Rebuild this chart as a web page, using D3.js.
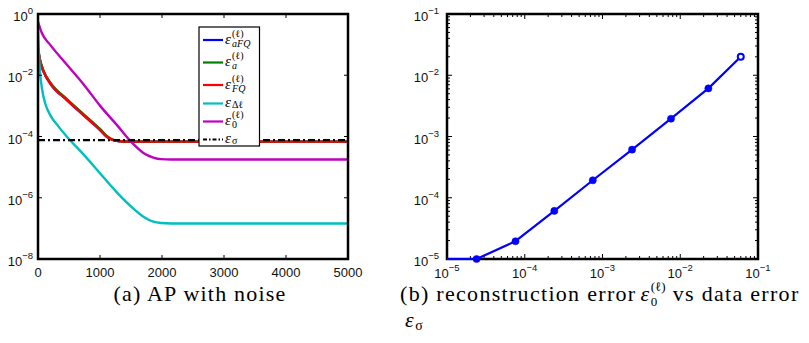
<!DOCTYPE html>
<html>
<head>
<meta charset="utf-8">
<script src="https://cdn.jsdelivr.net/npm/d3@7/dist/d3.min.js"></script>
<style>
  html, body { margin: 0; padding: 0; background: #fff; }
  svg { display: block; }
</style>
</head>
<body>
<svg id="chart" width="809" height="343"></svg>
<script>
// ---- Panel (a): error histories of the AP iteration with noisy data ----
const iterTicks = [0, 1000, 2000, 3000, 4000, 5000];
const errDecadesA = [0, -2, -4, -6, -8];

const iterFQ   = [0, 37, 91, 198, 467, 734, 1003, 1110, 1217, 1378, 1600, 2500, 3500, 5000];
const errFQ    = [7.1e-2, 2.75e-2, 1.29e-2, 5.37e-3, 1.55e-3, 5.0e-4, 1.62e-4, 9.8e-5, 7.6e-5, 6.9e-5, 6.8e-5, 6.8e-5, 6.8e-5, 6.8e-5];
const errA     = [7.6e-2, 2.95e-2, 1.39e-2, 5.8e-3, 1.67e-3, 5.4e-4, 1.74e-4, 1.04e-4, 7.8e-5, 6.9e-5, 6.8e-5, 6.8e-5, 6.8e-5, 6.8e-5];
const errAFQ   = [7.1e-2, 2.75e-2, 1.29e-2, 5.37e-3, 1.55e-3, 5.0e-4, 1.62e-4, 9.8e-5, 7.6e-5, 6.9e-5, 6.8e-5, 6.8e-5, 6.8e-5, 6.8e-5];

const iterDelta = [0, 26, 64, 117, 198, 332, 467, 734, 1003, 1271, 1539, 1700, 1861, 1980, 2150, 3000, 5000];
const errDelta  = [0.28, 1.9e-2, 3.7e-3, 1.2e-3, 5.0e-4, 2.1e-4, 9.8e-5, 2.6e-5, 6.2e-6, 1.5e-6, 4.4e-7, 2.4e-7, 1.65e-7, 1.5e-7, 1.45e-7, 1.45e-7, 1.45e-7];

const iterZero = [0, 64, 198, 467, 734, 1003, 1271, 1539, 1700, 1861, 1980, 2150, 3000, 4000, 5000];
const errZero  = [0.56, 0.234, 9.8e-2, 2.2e-2, 5.1e-3, 1.0e-3, 2.4e-4, 5.6e-5, 2.9e-5, 2.05e-5, 1.82e-5, 1.78e-5, 1.78e-5, 1.78e-5, 1.78e-5];

const iterSigma = [0, 5000];
const errSigma  = [7.6e-5, 7.6e-5];

// ---- Panel (b): reconstruction error against data error ----
const dataErr  = [7.6e-6, 2.4e-5, 7.6e-5, 2.4e-4, 7.5e-4, 2.4e-3, 7.6e-3, 2.3e-2, 6.0e-2];
const reconErr = [1.0e-5, 1.0e-5, 1.95e-5, 6.1e-5, 1.93e-4, 6.1e-4, 1.95e-3, 6.1e-3, 2.0e-2];
const decadesB = [-5, -4, -3, -2, -1];

const SANS = "'Liberation Sans', Arial, Helvetica, sans-serif";
const SERIF = "'Liberation Serif', 'DejaVu Serif', 'Times New Roman', serif";

const svg = d3.select("#chart");

function zip(xs, ys) { return xs.map((x, i) => [x, ys[i]]); }

// "10" with a raised exponent
function powerLabel(g, x, y, exp, anchor) {
  const t = g.append("text").attr("font-family", SANS).attr("fill", "#111").attr("y", y);
  t.append("tspan").attr("font-size", 13).text("10");
  t.append("tspan").attr("font-size", 9.5).attr("dy", -7).text(exp);
  const w = t.node().getComputedTextLength();
  t.attr("x", anchor === "end" ? x - w : x - w / 2);
  return t;
}

// epsilon with stacked super- and subscript; returns its width
function epsLabel(g, x, yMid, sup, sub, size, ssize, supOff, subOff) {
  const t = g.append("text").attr("font-family", SERIF).attr("fill", "#000");
  t.append("tspan").attr("x", x).attr("y", yMid + size * 0.25)
    .attr("font-size", size).attr("font-style", "italic").text("ε");
  const sx = x + size * 0.47;
  let w = 0;
  if (sup) {
    const s = t.append("tspan").attr("x", sx).attr("y", yMid - supOff).attr("font-size", ssize).text(sup);
    w = Math.max(w, s.node().getComputedTextLength());
  }
  if (sub) {
    const s = t.append("tspan").attr("x", sx).attr("y", yMid + subOff).attr("font-size", ssize)
      .attr("font-style", /^[a-zA-Z]+$/.test(sub) ? "italic" : "normal").text(sub);
    w = Math.max(w, s.node().getComputedTextLength());
  }
  return sx - x + w;
}

// ---------- panel (a) ----------
const A = { left: 38, right: 348, top: 14, bottom: 259 };
const xA = d3.scaleLinear().domain([0, 5000]).range([A.left, A.right]);
const yA = d3.scaleLog().domain([1e-8, 1]).range([A.bottom, A.top]);
const gA = svg.append("g");

gA.append("clipPath").attr("id", "clipA").append("rect")
  .attr("x", A.left).attr("y", A.top).attr("width", A.right - A.left).attr("height", A.bottom - A.top);

const lineA = d3.line().x(d => xA(d[0])).y(d => yA(d[1])).curve(d3.curveMonotoneX);
const seriesA = [
  { x: iterFQ, y: errAFQ, color: "#0000ff" },
  { x: iterFQ, y: errA, color: "#007f00" },
  { x: iterFQ, y: errFQ, color: "#ff0000" },
  { x: iterDelta, y: errDelta, color: "#00bfbf" },
  { x: iterZero, y: errZero, color: "#bf00bf" }
];
const plotA = gA.append("g").attr("clip-path", "url(#clipA)");
seriesA.forEach(s => {
  plotA.append("path").datum(zip(s.x, s.y)).attr("d", lineA)
    .attr("fill", "none").attr("stroke", s.color).attr("stroke-width", 2.4)
    .attr("stroke-linejoin", "round");
});
plotA.append("path").datum(zip(iterSigma, errSigma)).attr("d", d3.line().x(d => xA(d[0])).y(d => yA(d[1])))
  .attr("fill", "none").attr("stroke", "#000").attr("stroke-width", 2.2)
  .attr("stroke-dasharray", "7,3,2,3");

iterTicks.forEach(v => {
  gA.append("line").attr("x1", xA(v)).attr("x2", xA(v)).attr("y1", A.bottom).attr("y2", A.bottom - 4).attr("stroke", "#000");
  gA.append("line").attr("x1", xA(v)).attr("x2", xA(v)).attr("y1", A.top).attr("y2", A.top + 4).attr("stroke", "#000");
  gA.append("text").attr("font-family", SANS).attr("fill", "#111").attr("font-size", 13)
    .attr("x", xA(v)).attr("y", 277).attr("text-anchor", "middle").text(v);
});
errDecadesA.forEach(e => {
  const y = yA(Math.pow(10, e));
  gA.append("line").attr("x1", A.left).attr("x2", A.left + 4).attr("y1", y).attr("y2", y).attr("stroke", "#000");
  gA.append("line").attr("x1", A.right).attr("x2", A.right - 4).attr("y1", y).attr("y2", y).attr("stroke", "#000");
  powerLabel(gA, A.left - 5, y + 7, e === 0 ? "0" : "−" + Math.abs(e), "end");
});
gA.append("rect").attr("x", A.left).attr("y", A.top).attr("width", A.right - A.left).attr("height", A.bottom - A.top)
  .attr("fill", "none").attr("stroke", "#000").attr("stroke-width", 2.5);

// legend
const legendItems = [
  { sup: "(ℓ)", sub: "aFQ", color: "#0000ff" },
  { sup: "(ℓ)", sub: "a", color: "#007f00" },
  { sup: "(ℓ)", sub: "FQ", color: "#ff0000" },
  { sup: null, sub: "Δℓ", color: "#00bfbf" },
  { sup: "(ℓ)", sub: "0", color: "#bf00bf" },
  { sup: null, sub: "σ", color: "#000", dash: "4,2,1.5,2" }
];
const legendY = [40, 62.5, 85, 103.5, 121.5, 139.5];
const lg = gA.append("g");
lg.append("rect").attr("x", 199).attr("y", 27).attr("width", 60.5).attr("height", 119)
  .attr("fill", "#fff").attr("stroke", "#000").attr("stroke-width", 1.2);
legendItems.forEach((it, i) => {
  const y = legendY[i];
  lg.append("line").attr("x1", 203).attr("x2", 223).attr("y1", y).attr("y2", y)
    .attr("stroke", it.color).attr("stroke-width", 2.2)
    .attr("stroke-dasharray", it.dash || null);
  epsLabel(lg, 225, y, it.sup, it.sub, 15, 10, 3.5, it.sup ? 6.5 : 4.5);
});

// ---------- panel (b) ----------
const B = { left: 447, right: 758, top: 14, bottom: 259 };
const xB = d3.scaleLog().domain([1e-5, 1e-1]).range([B.left, B.right]);
const yB = d3.scaleLog().domain([1e-5, 1e-1]).range([B.bottom, B.top]);
const gB = svg.append("g");

gB.append("clipPath").attr("id", "clipB").append("rect")
  .attr("x", B.left).attr("y", B.top - 5).attr("width", B.right - B.left).attr("height", B.bottom - B.top + 10);

for (let e = -5; e < -1; e++) {
  for (let m = 2; m <= 9; m++) {
    const v = m * Math.pow(10, e);
    const x = xB(v), y = yB(v);
    gB.append("line").attr("x1", x).attr("x2", x).attr("y1", B.bottom).attr("y2", B.bottom - 3).attr("stroke", "#000");
    gB.append("line").attr("x1", x).attr("x2", x).attr("y1", B.top).attr("y2", B.top + 3).attr("stroke", "#000");
    gB.append("line").attr("x1", B.left).attr("x2", B.left + 3).attr("y1", y).attr("y2", y).attr("stroke", "#000");
    gB.append("line").attr("x1", B.right).attr("x2", B.right - 3).attr("y1", y).attr("y2", y).attr("stroke", "#000");
  }
}
decadesB.forEach(e => {
  const v = Math.pow(10, e);
  const x = xB(v), y = yB(v);
  gB.append("line").attr("x1", x).attr("x2", x).attr("y1", B.bottom).attr("y2", B.bottom - 5).attr("stroke", "#000");
  gB.append("line").attr("x1", x).attr("x2", x).attr("y1", B.top).attr("y2", B.top + 5).attr("stroke", "#000");
  gB.append("line").attr("x1", B.left).attr("x2", B.left + 5).attr("y1", y).attr("y2", y).attr("stroke", "#000");
  gB.append("line").attr("x1", B.right).attr("x2", B.right - 5).attr("y1", y).attr("y2", y).attr("stroke", "#000");
  powerLabel(gB, B.left - 8, y + 7, "−" + Math.abs(e), "end");
  powerLabel(gB, x, 278, "−" + Math.abs(e), "middle");
});
gB.append("rect").attr("x", B.left).attr("y", B.top).attr("width", B.right - B.left).attr("height", B.bottom - B.top)
  .attr("fill", "none").attr("stroke", "#000").attr("stroke-width", 2.5);

const ptsB = zip(dataErr, reconErr);
gB.append("path").datum(ptsB).attr("clip-path", "url(#clipB)")
  .attr("d", d3.line().x(d => xB(d[0])).y(d => yB(d[1])))
  .attr("fill", "none").attr("stroke", "#0000ff").attr("stroke-width", 2.2).attr("stroke-linejoin", "round");
const inside = ptsB.filter(d => d[0] >= 1e-5);
const lastIdx = inside.length - 1;
gB.selectAll("circle.mk").data(inside).join("circle").attr("class", "mk")
  .attr("cx", d => xB(d[0])).attr("cy", d => yB(d[1])).attr("r", (d, i) => i === lastIdx ? 3 : 3.6)
  .attr("fill", (d, i) => i === lastIdx ? "#fff" : "#0000ff")
  .attr("stroke", "#0000ff").attr("stroke-width", (d, i) => i === lastIdx ? 2 : 0.5);

// ---------- captions ----------
const CAP = 22, LS = 1.2, LSB = 1.3;
svg.append("text").attr("font-family", SERIF).attr("font-size", CAP).attr("letter-spacing", LS)
  .attr("x", 200).attr("y", 301).attr("text-anchor", "middle").text("(a) AP with noise");

const capB = svg.append("g");
const cb1 = capB.append("text").attr("font-family", SERIF).attr("font-size", CAP).attr("letter-spacing", LSB)
  .attr("x", 400).attr("y", 301).text("(b) reconstruction error");
let cx = 400 + cb1.node().getComputedTextLength() + 4;
cx += epsLabel(capB, cx, 295.5, "(ℓ)", "0", CAP, 13, 4.5, 10.5) + 7;
capB.append("text").attr("font-family", SERIF).attr("font-size", CAP).attr("letter-spacing", LSB)
  .attr("x", cx).attr("y", 301).text("vs data error");
epsLabel(capB, 405, 321, null, "σ", CAP, 14, 0, 9);
</script>
</body>
</html>
